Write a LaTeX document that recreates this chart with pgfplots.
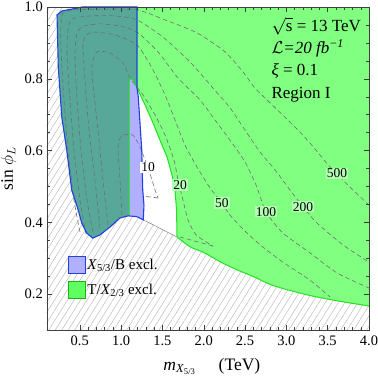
\documentclass[border=0pt]{standalone}
\usepackage{fontspec}
\setmainfont{Liberation Serif}
\usepackage{pgfplots}
\pgfplotsset{compat=1.18}
\usetikzlibrary{patterns.meta}

\definecolor{exclgreen}{HTML}{80FF80}
\definecolor{teal2}{HTML}{58A89A}
\definecolor{lblue}{HTML}{B0B0FF}
\definecolor{bline}{HTML}{2040E0}
\definecolor{gline}{HTML}{20E020}
\definecolor{hatchgray}{HTML}{BDBDBD}
\definecolor{contgray}{HTML}{6E6E6E}

\begin{document}
\fontsize{14}{16}\selectfont
\begin{tikzpicture}
\begin{axis}[
    scale only axis,
    width=322.3pt, height=323pt,
    xmin=0.1, xmax=4.0, ymin=0.1, ymax=1.0,
    xtick={0.5,1.0,1.5,2.0,2.5,3.0,3.5,4.0},
    ytick={0.2,0.4,0.6,0.8,1.0},
    minor x tick num=4, minor y tick num=3,
    tick align=inside,
    major tick length=5pt, minor tick length=3pt,
    axis on top,
    axis line style={black!75},
    every tick/.style={black!75},
    tick label style={font=\fontsize{14.5}{16}\selectfont},
    xticklabel style={yshift=-1pt},
    yticklabel style={xshift=1pt},
    xlabel={\textit{m}\textsubscript{\textit{X}\textsubscript{5/3}}\hspace{1.3em}(TeV)},
    ylabel={sin $\phi_L$},
    label style={font=\fontsize{17.5}{20}\selectfont},
    xlabel style={yshift=-3pt, xshift=4pt},
    ylabel style={yshift=-1pt},
    legend style={at={(0.055,0.235)}, anchor=north west, draw=none, fill=none,
        font=\fontsize{15}{17}\selectfont, row sep=7pt, cells={anchor=west}},
    legend image code/.code={\draw[#1] (0pt,-8.5pt) rectangle (17pt,8.5pt);},
    /pgf/number format/.cd, fixed, fixed zerofill, precision=1, assume math mode=true,
]
\addlegendimage{fill=lblue, draw=bline, line width=0.8pt}
\addlegendentry{\textit{X}\textsubscript{5/3}/B excl.}
\addlegendimage{fill=exclgreen!75!green, draw=gline!80!black, line width=0.8pt}
\addlegendentry{T/\textit{X}\textsubscript{2/3} excl.}

% green excluded region (background)
\addplot[draw=none, fill=exclgreen, forget plot] coordinates {
    (0.1,0.1) (4.0,0.1) (4.0,1.0) (0.1,1.0)} --cycle;

% allowed hole
\addplot[draw=none, fill=white, forget plot] coordinates {
    (1.097,0.791) (1.105,0.799) (1.120,0.800) (1.145,0.797) (1.193,0.774)
    (1.290,0.727) (1.386,0.677) (1.471,0.629) (1.556,0.582) (1.616,0.532)
    (1.653,0.490) (1.671,0.434) (1.677,0.359) (1.269,0.407) (1.189,0.416)
    (1.097,0.418)} --cycle;

% theoretically excluded (hatched)
\addplot[draw=none, fill=white, forget plot] coordinates {
    (0.1,1.0) (0.527,1.0) (0.467,0.997) (0.285,0.989) (0.225,0.978)
    (0.240,0.834) (0.282,0.694) (0.342,0.602) (0.403,0.490) (0.482,0.434)
    (0.524,0.398) (0.584,0.370) (0.657,0.356) (0.745,0.365) (0.866,0.387)
    (0.987,0.412) (1.084,0.418) (1.189,0.416) (1.269,0.407) (1.677,0.359)
    (1.834,0.332) (2.0,0.316) (2.2,0.290) (2.4,0.268) (2.6,0.249)
    (2.84,0.224) (3.25,0.198) (3.65,0.180) (4.0,0.167) (4.0,0.1) (0.1,0.1)} --cycle;
\addplot[draw=none, pattern={Lines[angle=58,distance=5.5pt,line width=0.5pt]},
    pattern color=hatchgray, forget plot] coordinates {
    (0.1,1.0) (0.527,1.0) (0.467,0.997) (0.285,0.989) (0.225,0.978)
    (0.240,0.834) (0.282,0.694) (0.342,0.602) (0.403,0.490) (0.482,0.434)
    (0.524,0.398) (0.584,0.370) (0.657,0.356) (0.745,0.365) (0.866,0.387)
    (0.987,0.412) (1.084,0.418) (1.189,0.416) (1.269,0.407) (1.677,0.359)
    (1.834,0.332) (2.0,0.316) (2.2,0.290) (2.4,0.268) (2.6,0.249)
    (2.84,0.224) (3.25,0.198) (3.65,0.180) (4.0,0.167) (4.0,0.1) (0.1,0.1)} --cycle;

% X5/3 / B excluded
\addplot[draw=none, fill=lblue, forget plot] coordinates {
    (0.527,1.0) (1.193,1.0) (1.193,0.774) (1.208,0.750) (1.250,0.602)
    (1.262,0.490) (1.277,0.448) (1.269,0.407) (1.189,0.416) (1.084,0.418)
    (0.987,0.412) (0.866,0.387) (0.745,0.365) (0.657,0.356) (0.584,0.370)
    (0.524,0.398) (0.482,0.434) (0.403,0.490) (0.342,0.602) (0.282,0.694)
    (0.240,0.834) (0.225,0.978) (0.285,0.989) (0.467,0.997)} --cycle;

% overlap of both
\addplot[draw=none, fill=teal2, forget plot] coordinates {
    (0.527,1.0) (1.193,1.0) (1.193,0.774) (1.145,0.797) (1.120,0.800)
    (1.105,0.799) (1.097,0.791) (1.097,0.418) (1.084,0.418)
    (0.987,0.412) (0.866,0.387) (0.745,0.365) (0.657,0.356) (0.584,0.370)
    (0.524,0.398) (0.482,0.434) (0.403,0.490) (0.342,0.602) (0.282,0.694)
    (0.240,0.834) (0.225,0.978) (0.285,0.989) (0.467,0.997)} --cycle;

% contours
\pgfplotsset{cont/.style={contgray, line width=0.6pt, dash pattern=on 4.5pt off 3pt, smooth, tension=0.4, forget plot}}
\addplot[cont] coordinates {
    (0.503,0.373) (0.430,0.462) (0.358,0.602) (0.309,0.741) (0.273,0.880)
    (0.273,0.950) (0.297,0.983) (0.442,0.992) (0.745,0.994) (1.193,0.992)
    (1.532,0.964) (1.919,0.928) (2.258,0.875) (2.475,0.819) (2.621,0.774)
    (2.802,0.733) (3.081,0.671) (3.286,0.621) (3.528,0.554) (3.770,0.498) (4.0,0.448)};
\addplot[cont] coordinates {
    (0.576,0.367) (0.503,0.462) (0.430,0.602) (0.382,0.741) (0.346,0.866)
    (0.358,0.936) (0.406,0.967) (0.624,0.975) (0.927,0.975) (1.193,0.964)
    (1.507,0.916) (1.834,0.847) (2.112,0.774) (2.318,0.719) (2.500,0.657)
    (2.681,0.596) (2.863,0.546) (3.044,0.490) (3.202,0.443) (3.371,0.398)
    (3.686,0.337) (4.0,0.289)};
\addplot[cont] coordinates {
    (0.660,0.373) (0.588,0.462) (0.515,0.602) (0.467,0.741) (0.442,0.866)
    (0.467,0.928) (0.551,0.947) (0.745,0.953) (0.987,0.947) (1.193,0.930)
    (1.447,0.875) (1.689,0.802) (1.955,0.741) (2.137,0.685) (2.318,0.629)
    (2.500,0.568) (2.633,0.504) (2.754,0.429) (2.959,0.370) (3.286,0.315)
    (3.613,0.259) (4.0,0.217)};
\addplot[cont] coordinates {
    (0.745,0.384) (0.684,0.518) (0.612,0.657) (0.563,0.797) (0.539,0.894)
    (0.576,0.922) (0.684,0.930) (0.927,0.922) (1.193,0.894) (1.374,0.830)
    (1.532,0.755) (1.653,0.685) (1.774,0.615) (1.919,0.554) (2.076,0.496)
    (2.221,0.454) (2.318,0.420) (2.524,0.370) (2.717,0.331) (2.959,0.289)
    (3.286,0.239) (3.528,0.192)};
\addplot[cont] coordinates {
    (0.842,0.393) (0.781,0.518) (0.721,0.657) (0.660,0.783) (0.648,0.838)
    (0.709,0.875) (0.866,0.872) (1.023,0.844) (1.108,0.802) (1.265,0.755)
    (1.411,0.699) (1.532,0.643) (1.640,0.574) (1.689,0.518) (1.749,0.462)
    (1.810,0.407) (1.907,0.365) (2.112,0.334)};
\addplot[cont, smooth=false] coordinates {(2.112,0.334) (1.713,0.359)};
\addplot[cont] coordinates {
    (1.011,0.420) (0.987,0.518) (0.963,0.602) (0.975,0.629) (1.023,0.643)
    (1.144,0.643) (1.229,0.610) (1.290,0.574) (1.326,0.554) (1.374,0.518)
    (1.411,0.490) (1.447,0.468)};
\addplot[cont, smooth=false] coordinates {(1.447,0.468) (1.265,0.473)};

% boundaries
\addplot[gray, line width=0.5pt, forget plot] coordinates {(1.269,0.407) (1.677,0.359)};
\addplot[gline, line width=1pt, forget plot] coordinates {
    (1.097,0.418) (1.097,0.791) (1.105,0.799) (1.120,0.800) (1.145,0.797)
    (1.193,0.774) (1.290,0.727) (1.386,0.677) (1.471,0.629) (1.556,0.582)
    (1.616,0.532) (1.653,0.490) (1.671,0.434) (1.677,0.359)};
\addplot[gline, line width=1pt, smooth, forget plot] coordinates {
    (1.677,0.359) (1.834,0.332) (2.0,0.316) (2.2,0.290) (2.4,0.268) (2.6,0.249)
    (2.84,0.224) (3.25,0.198) (3.65,0.180) (4.0,0.167)};
\addplot[bline, line width=1.1pt, forget plot] coordinates {
    (0.527,1.0) (1.193,1.0) (1.193,0.774) (1.208,0.750) (1.250,0.602)
    (1.262,0.490) (1.277,0.448) (1.269,0.407) (1.189,0.416) (1.084,0.418)
    (0.987,0.412) (0.866,0.387) (0.745,0.365) (0.657,0.356) (0.584,0.370)
    (0.524,0.398) (0.482,0.434) (0.403,0.490) (0.342,0.602) (0.282,0.694)
    (0.240,0.834) (0.225,0.978) (0.285,0.989) (0.467,0.997)} --cycle;

% contour labels
\tikzset{clab/.style={inner sep=1pt, font=\fontsize{13.5}{15}\selectfont}}
\node[clab, fill=white] at (axis cs:1.326,0.554) {10};
\node[clab, fill=exclgreen!60!white] at (axis cs:1.713,0.504) {20};
\node[clab, fill=exclgreen!60!white] at (axis cs:2.221,0.454) {50};
\node[clab, fill=exclgreen!60!white] at (axis cs:2.754,0.429) {100};
\node[clab, fill=exclgreen!60!white] at (axis cs:3.202,0.443) {200};
\node[clab, fill=exclgreen!60!white] at (axis cs:3.613,0.537) {500};

\node[anchor=north west, align=left, inner sep=0pt, font=\fontsize{17}{22.3}\selectfont]
    at (rel axis cs:0.697,0.968)
    {$\sqrt{\mbox{s}}$ = 13 TeV\\
     $\mathcal{L}$\textit{=20 fb}\textsuperscript{\textit{−1}}\\
     \textit{ξ} = 0.1\\
     Region I};

\coordinate (SW) at (rel axis cs:0,0);
\coordinate (NE) at (rel axis cs:1,1);
\end{axis}
\pgfresetboundingbox
\path ([shift={(-46.7pt,-47pt)}]SW) rectangle ([shift={(9pt,7pt)}]NE);
\end{tikzpicture}
\end{document}
